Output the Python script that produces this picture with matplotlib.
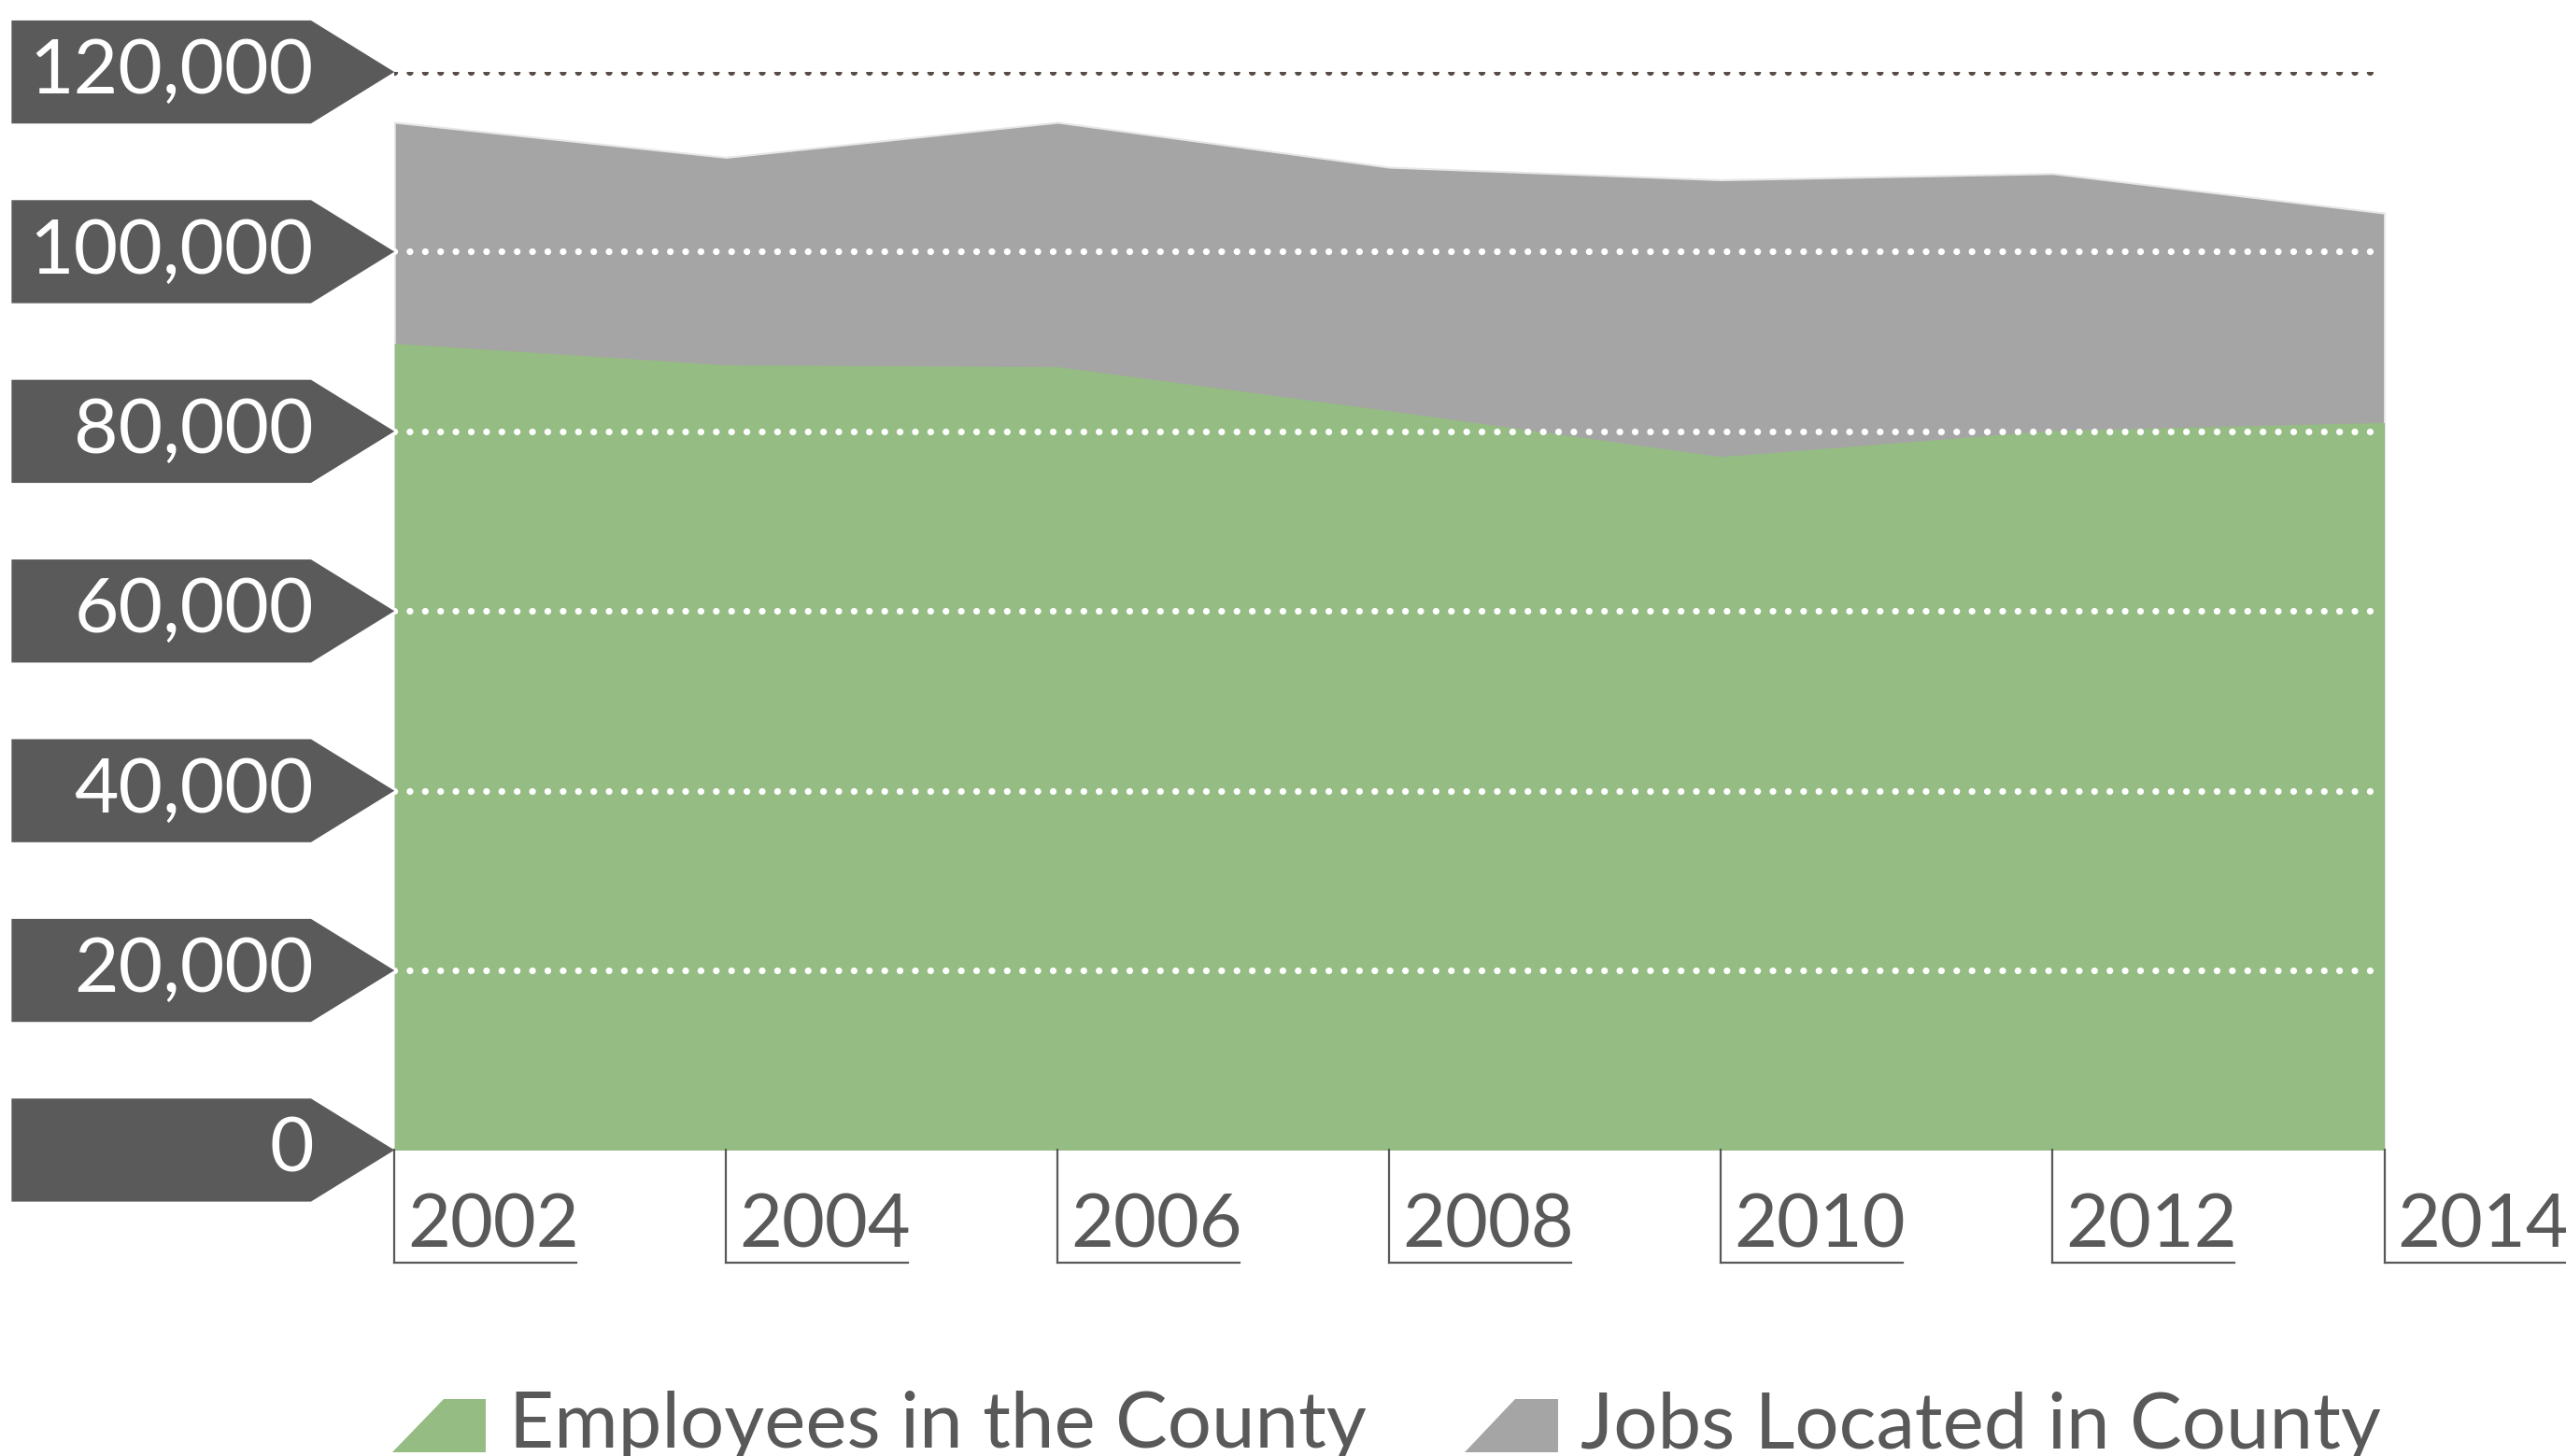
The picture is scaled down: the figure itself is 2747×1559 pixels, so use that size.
import matplotlib
matplotlib.use('Agg')
import matplotlib.pyplot as plt
import matplotlib.transforms as mtransforms
from matplotlib.patches import Polygon

plt.rcParams['font.family'] = ['Lato', 'DejaVu Sans']

years = [2002, 2004, 2006, 2008, 2010, 2012, 2014]
employees = [89800, 87400, 87200, 82300, 77200, 80100, 81000]
jobs = [114400, 110500, 114400, 109400, 108000, 108700, 104300]
y_ticks = [0, 20000, 40000, 60000, 80000, 100000, 120000]
series_names = ['Employees in the County', 'Jobs Located in County']

GREEN = '#95bc83'
GRAY = '#a5a5a5'
BOX = '#5a5a5a'
TEXT = '#595959'
DOTS = '#574d48'

fig = plt.figure(figsize=(27.47, 15.59), dpi=100)
fig.patch.set_facecolor('white')
ax = fig.add_axes([241/1568, 1 - 703/890, 1216/1568, 659/890])

ax.fill_between(years, 0, jobs, color=GRAY, lw=1.5, edgecolor='#e6e6e6', zorder=1)
ax.fill_between(years, 0, employees, color=GREEN, lw=0, zorder=2)

ax.set_xlim(years[0], years[-1])
ax.set_ylim(0, 120000)
ax.axis('off')

# dotted gridlines: white over the fill, dark above it
for v in y_ticks[1:]:
    col = DOTS if v == 120000 else 'white'
    ax.axhline(v, color=col, lw=5.2, linestyle=(0, (0.01, 2.26)),
               dash_capstyle='round', zorder=3)

# arrow-shaped y labels
tr = mtransforms.blended_transform_factory(ax.transAxes, ax.transData)
half = 5736
for v in y_ticks:
    pts = [(-0.1924, v + half), (-0.0419, v + half), (0, v),
           (-0.0419, v - half), (-0.1924, v - half)]
    ax.add_patch(Polygon(pts, closed=True, facecolor=BOX, edgecolor='none',
                         transform=tr, clip_on=False, zorder=4))
    ax.text(-0.0405, v, f'{v:,}', transform=tr, ha='right', va='center',
            color='white', fontsize=59, zorder=5)

# bracket-style x labels
trx = mtransforms.blended_transform_factory(ax.transData, ax.transAxes)
for yr in years:
    ax.plot([yr, yr], [0, -0.1047], color=TEXT, lw=1.6, transform=trx,
            clip_on=False, zorder=4)
    ax.plot([yr, yr + 12 * 111 / 1216], [-0.1047, -0.1047], color=TEXT, lw=1.6,
            transform=trx, clip_on=False, zorder=4)
    ax.text(yr + 12 * 8 / 1216, -0.071, str(yr), transform=trx, ha='left',
            va='center', color=TEXT, fontsize=57)

# legend along the bottom edge
leg = [(240, series_names[0], GREEN), (895, series_names[1], GRAY)]
for x0, name, col in leg:
    yb, yt = (890 - 888) / 890, (890 - 855) / 890
    pts = [(x0 / 1568, yb), ((x0 + 57) / 1568, yb),
           ((x0 + 57) / 1568, yt), ((x0 + 31) / 1568, yt)]
    fig.add_artist(Polygon(pts, closed=True, facecolor=col, edgecolor='none',
                           transform=fig.transFigure))
    fig.text((x0 + 71) / 1568, 5 / 890, name, ha='left', va='baseline',
             color=TEXT, fontsize=60)

fig.savefig('out.png', dpi=100, facecolor='white')
